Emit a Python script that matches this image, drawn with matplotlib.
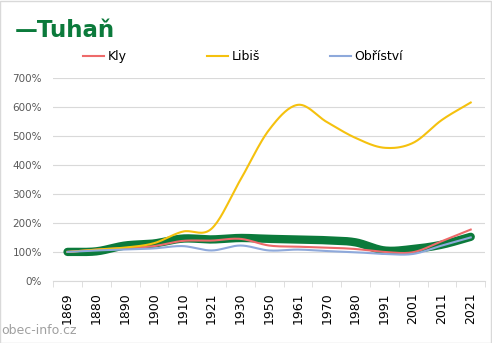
import numpy as np
import matplotlib
matplotlib.use("Agg")
import matplotlib.pyplot as plt
from matplotlib.ticker import FuncFormatter

years = ["1869", "1880", "1890", "1900", "1910", "1921", "1930", "1950",
         "1961", "1970", "1980", "1991", "2001", "2011", "2021"]
tuhan = [100, 102, 122, 129, 146, 143, 148, 145, 143, 140, 133, 105, 110, 125, 152]
kly = [100, 108, 113, 120, 138, 139, 145, 122, 118, 115, 110, 100, 99, 137, 177]
libis = [100, 108, 115, 130, 170, 180, 348, 521, 607, 548, 493, 459, 476, 555, 615]
obristvi = [100, 105, 108, 112, 120, 105, 122, 105, 108, 103, 99, 93, 93, 122, 150]


def smooth(y, n=20):
    # catmull-rom style curve through the points (like Excel smoothed line)
    y = np.asarray(y, float)
    x = np.arange(len(y), dtype=float)
    p = np.concatenate([[2 * y[0] - y[1]], y, [2 * y[-1] - y[-2]]])
    xs, ys = [], []
    for i in range(len(y) - 1):
        t = np.linspace(0, 1, n, endpoint=False)
        p0, p1, p2, p3 = p[i], p[i + 1], p[i + 2], p[i + 3]
        yy = 0.5 * ((2 * p1) + (-p0 + p2) * t + (2 * p0 - 5 * p1 + 4 * p2 - p3) * t ** 2
                    + (-p0 + 3 * p1 - 3 * p2 + p3) * t ** 3)
        xs.append(x[i] + t)
        ys.append(yy)
    xs.append([x[-1]])
    ys.append([y[-1]])
    return np.concatenate(xs), np.concatenate(ys)


fig = plt.figure(figsize=(4.92, 3.43), dpi=100)
ax = fig.add_axes([0.108, 0.181, 0.878, 0.592])

green = "#0B7A3B"
ax.plot(*smooth(tuhan), color=green, lw=6, solid_capstyle="round", zorder=2)
l1, = ax.plot(*smooth(kly), color="#EE6A6A", lw=1.5, label="Kly", zorder=3)
l2, = ax.plot(*smooth(libis), color="#F5C10E", lw=1.5, label="Libiš", zorder=3)
l3, = ax.plot(*smooth(obristvi), color="#8EA9DB", lw=1.5, label="Obříství", zorder=3)

ax.set_xlim(-0.5, len(years) - 0.5)
ax.set_ylim(0, 700)
ax.set_yticks(range(0, 701, 100))
ax.yaxis.set_major_formatter(FuncFormatter(lambda v, p: f"{int(v)}%"))
ax.set_xticks(range(len(years)))
ax.set_xticklabels(years, rotation=90, fontsize=9, color="#000000")
ax.set_xticks(np.arange(-0.5, len(years), 1), minor=True)
ax.tick_params(axis="x", which="major", length=0, pad=8)
ax.tick_params(axis="x", which="minor", length=4, color="#d9d9d9")
ax.tick_params(axis="y", length=0, labelsize=7.5, labelcolor="#595959", pad=8)
ax.grid(axis="y", color="#d9d9d9", lw=0.8)
ax.set_axisbelow(True)
for s in ["top", "right", "left"]:
    ax.spines[s].set_visible(False)
ax.spines["bottom"].set_color("#d9d9d9")

# legend entries placed at evenly spaced slots, like Excel
for line, x0 in zip([l1, l2, l3], [0.168, 0.420, 0.670]):
    fig.legend(handles=[line], loc="center left", bbox_to_anchor=(x0, 0.835),
               frameon=False, fontsize=9, handlelength=1.7, handletextpad=0.3,
               borderaxespad=0, borderpad=0)

fig.text(0.03, 0.912, "—Tuhaň", color=green, fontsize=16.5, fontweight="bold", va="center")
fig.text(0.002, 0.035, "obec-info.cz", color="#a0a0a0", fontsize=9, va="center")

fig.patches.append(plt.Rectangle((0.001, 0.001), 0.997, 0.997, transform=fig.transFigure,
                                 fill=False, edgecolor="#d9d9d9", lw=1))

fig.savefig("out.png", dpi=100)
